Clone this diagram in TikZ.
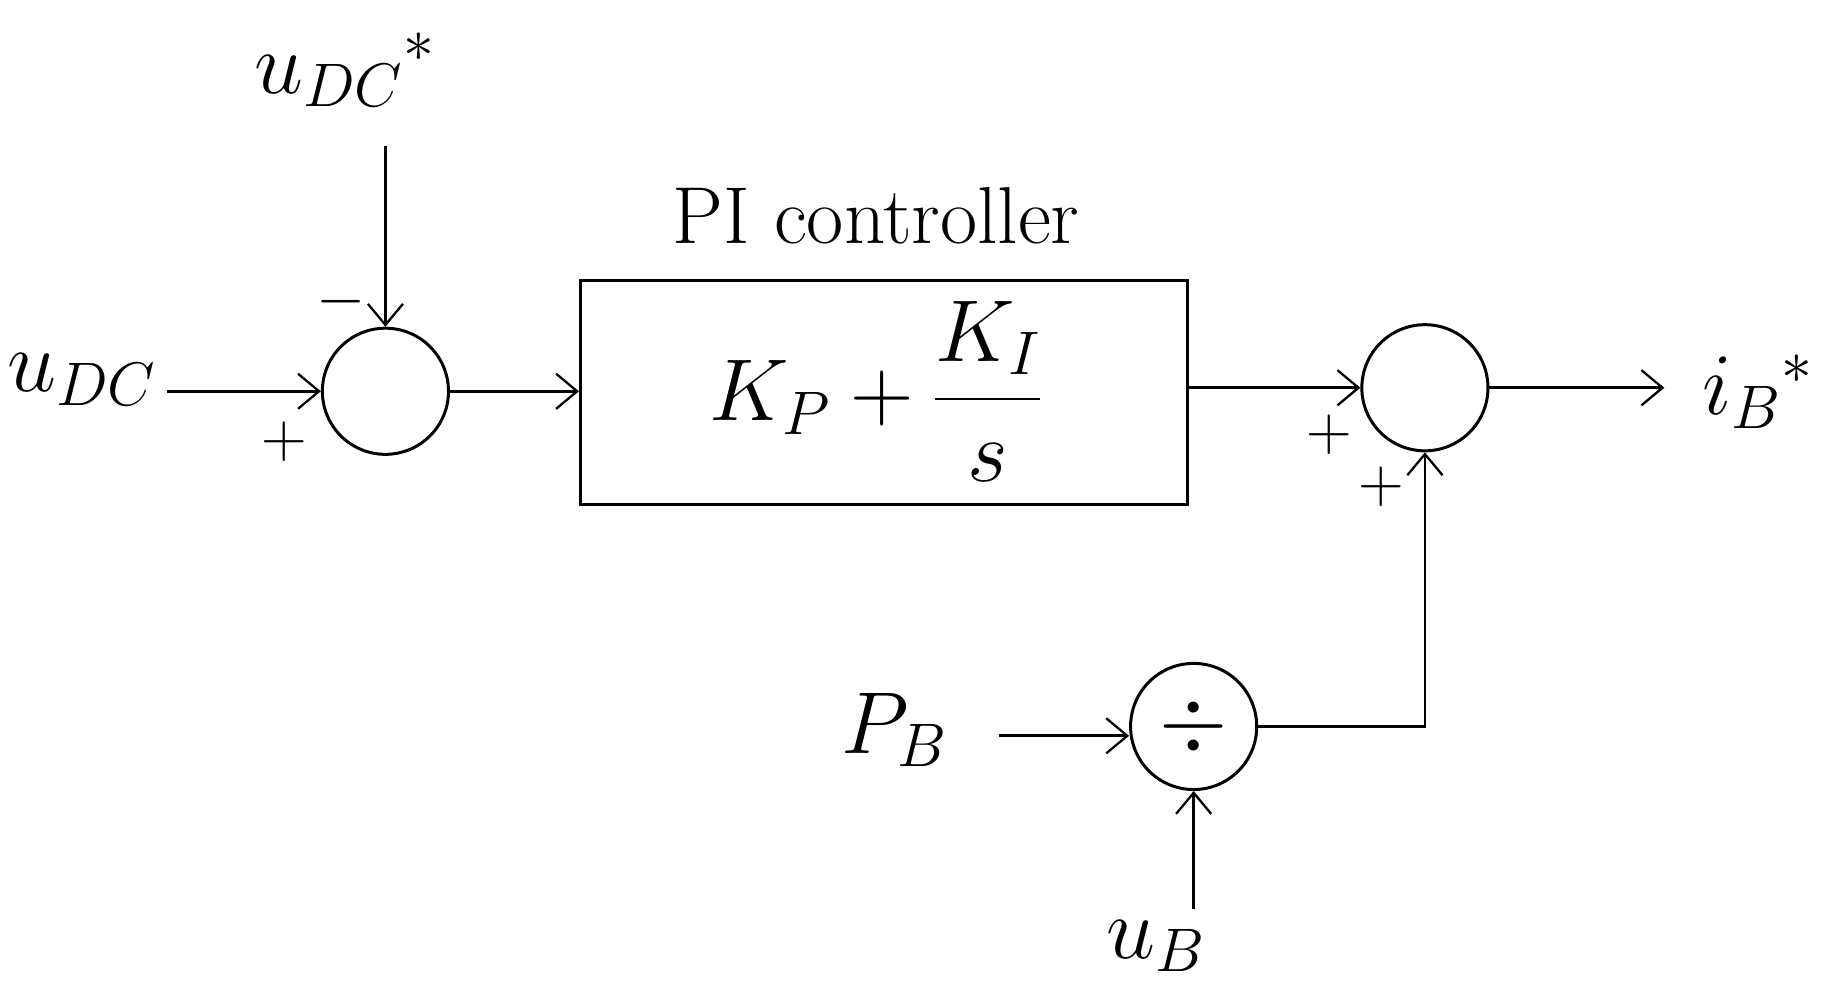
\RequirePackage{fix-cm}
\documentclass[tikz,border=0pt]{standalone}
\usepackage{amsmath}
\usetikzlibrary{arrows.meta}
\begin{document}
\begin{tikzpicture}[x=0.02336cm,y=-0.02336cm,
  line width=1.5pt,
  ar/.style={-{Straight Barb[length=12pt,width=20pt,line width=1.3pt]}},
  sum/.style={circle,draw,line width=1.7pt,minimum size=108*0.02336cm,inner sep=0pt},
  lab/.style={font=\fontsize{50}{60}\selectfont,inner sep=0pt},
  sg/.style={font=\fontsize{36}{40}\selectfont,inner sep=0pt}]
\useasboundingbox (0,0) rectangle (1560,858);
\node[sum] (s1) at (330,335) {};
\node[sum] (s2) at (1220,332) {};
\node[sum,font=\fontsize{50}{60}\selectfont] (dv) at (1022,622) {$\div$};
\node[draw,line width=1.7pt,minimum width=520*0.02336cm,minimum height=192*0.02336cm,inner sep=0pt] (pi) at (757,336) {};
\node[lab] (kp) at (750,335) {$K_P+\dfrac{K_I}{s}$};
\node[font=\fontsize{46}{55}\selectfont,inner sep=0pt] (pit) at (750,185) {PI controller};
\node[lab] (udcs) at (295,60) {$u_{DC}{}^*$};
\node[lab,anchor=east] (udc) at (135,325) {$u_{DC}$};
\node[lab] (ib) at (1505,335) {$i_B{}^*$};
\node[lab,anchor=east] (pb) at (812,625) {$P_B$};
\node[lab] (ub) at (990,810) {$u_B$};
\node[sg] (m1) at (292,258) {$-$};
\node[sg] (p1) at (243,378) {$+$};
\node[sg] (p2) at (1138,372) {$+$};
\node[sg] (p3) at (1183,417) {$+$};
\coordinate (a1) at (330,125);
\coordinate (a2) at (143,335);
\coordinate (a3) at (855,630);
\coordinate (a4) at (1022,778);
\coordinate (out) at (1425,332);
\coordinate (bend) at (1220,622);
\draw[ar] (a1) -- (s1.north);
\draw[ar] (a2) -- (s1.west);
\draw[ar] (s1.east) -- (pi.west |- s1.east);
\draw[ar] (pi.east |- s2.west) -- (s2.west);
\draw[ar] (s2.east) -- (out);
\draw[ar] (a3) -- (dv.west |- a3);
\draw[ar] (a4) -- (dv.south);
\draw[ar] (dv.east) -- (bend) -- (s2.south);
\end{tikzpicture}
\end{document}
